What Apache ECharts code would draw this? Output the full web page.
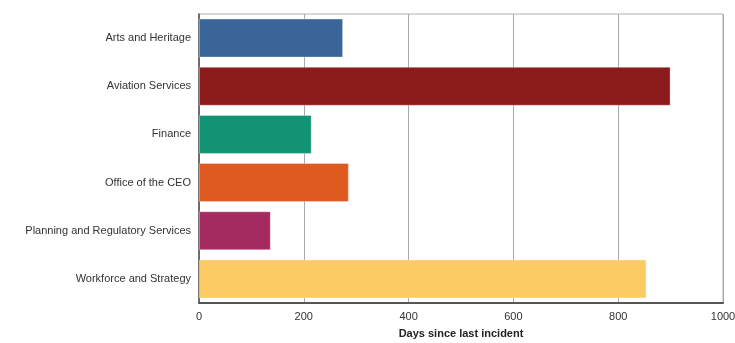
<!DOCTYPE html>
<html>
<head>
<meta charset="utf-8">
<script src="https://cdn.jsdelivr.net/npm/echarts@6/dist/echarts.min.js"></script>
<style>
  html, body { margin: 0; padding: 0; background: #fff; }
  #chart { width: 735px; height: 343px; }
</style>
</head>
<body>
<div id="chart"></div>
<script>
// Departments, listed top to bottom
const departments = [
  'Arts and Heritage',
  'Aviation Services',
  'Finance',
  'Office of the CEO',
  'Planning and Regulatory Services',
  'Workforce and Strategy'
];
// Days since the last recorded incident per department
const daysSinceIncident = [275, 900, 215, 286, 137, 854];
const barColors = ['#3a6598', '#8b1a1a', '#129373', '#df5a20', '#a42b60', '#fdcb64'];
const xTicks = [0, 200, 400, 600, 800, 1000];

const chart = echarts.init(document.getElementById('chart'));
chart.setOption({
  animation: false,
  textStyle: { fontFamily: 'Liberation Sans, Arial, sans-serif' },
  grid: {
    left: 199, right: 12, top: 14, bottom: 40,
    outerBoundsMode: 'none', containLabel: false,
    show: true, borderColor: '#b0b0b4', borderWidth: 1
  },
  xAxis: {
    type: 'value',
    min: xTicks[0],
    max: xTicks[xTicks.length - 1],
    interval: 200,
    name: 'Days since last incident',
    nameLocation: 'middle',
    nameGap: 25,
    nameTextStyle: { fontWeight: 'bold', fontSize: 11, color: '#222' },
    axisLine: { show: true, lineStyle: { color: '#555', width: 2 } },
    axisTick: { show: false },
    axisLabel: { color: '#333', fontSize: 11, margin: 8, formatter: v => String(v) },
    splitLine: { show: true, lineStyle: { color: '#a8a8b0', width: 1 } }
  },
  yAxis: {
    type: 'category',
    data: departments,
    inverse: true,
    axisLine: { show: true, lineStyle: { color: '#555', width: 1.5 } },
    axisTick: { show: false },
    axisLabel: { color: '#333', fontSize: 11, margin: 8 }
  },
  series: [{
    type: 'bar',
    barCategoryGap: '19%',
    data: daysSinceIncident.map((v, i) => ({
      value: v,
      itemStyle: { color: barColors[i], borderColor: 'rgba(255,255,255,0.35)', borderWidth: 1 }
    }))
  }]
});
</script>
</body>
</html>
